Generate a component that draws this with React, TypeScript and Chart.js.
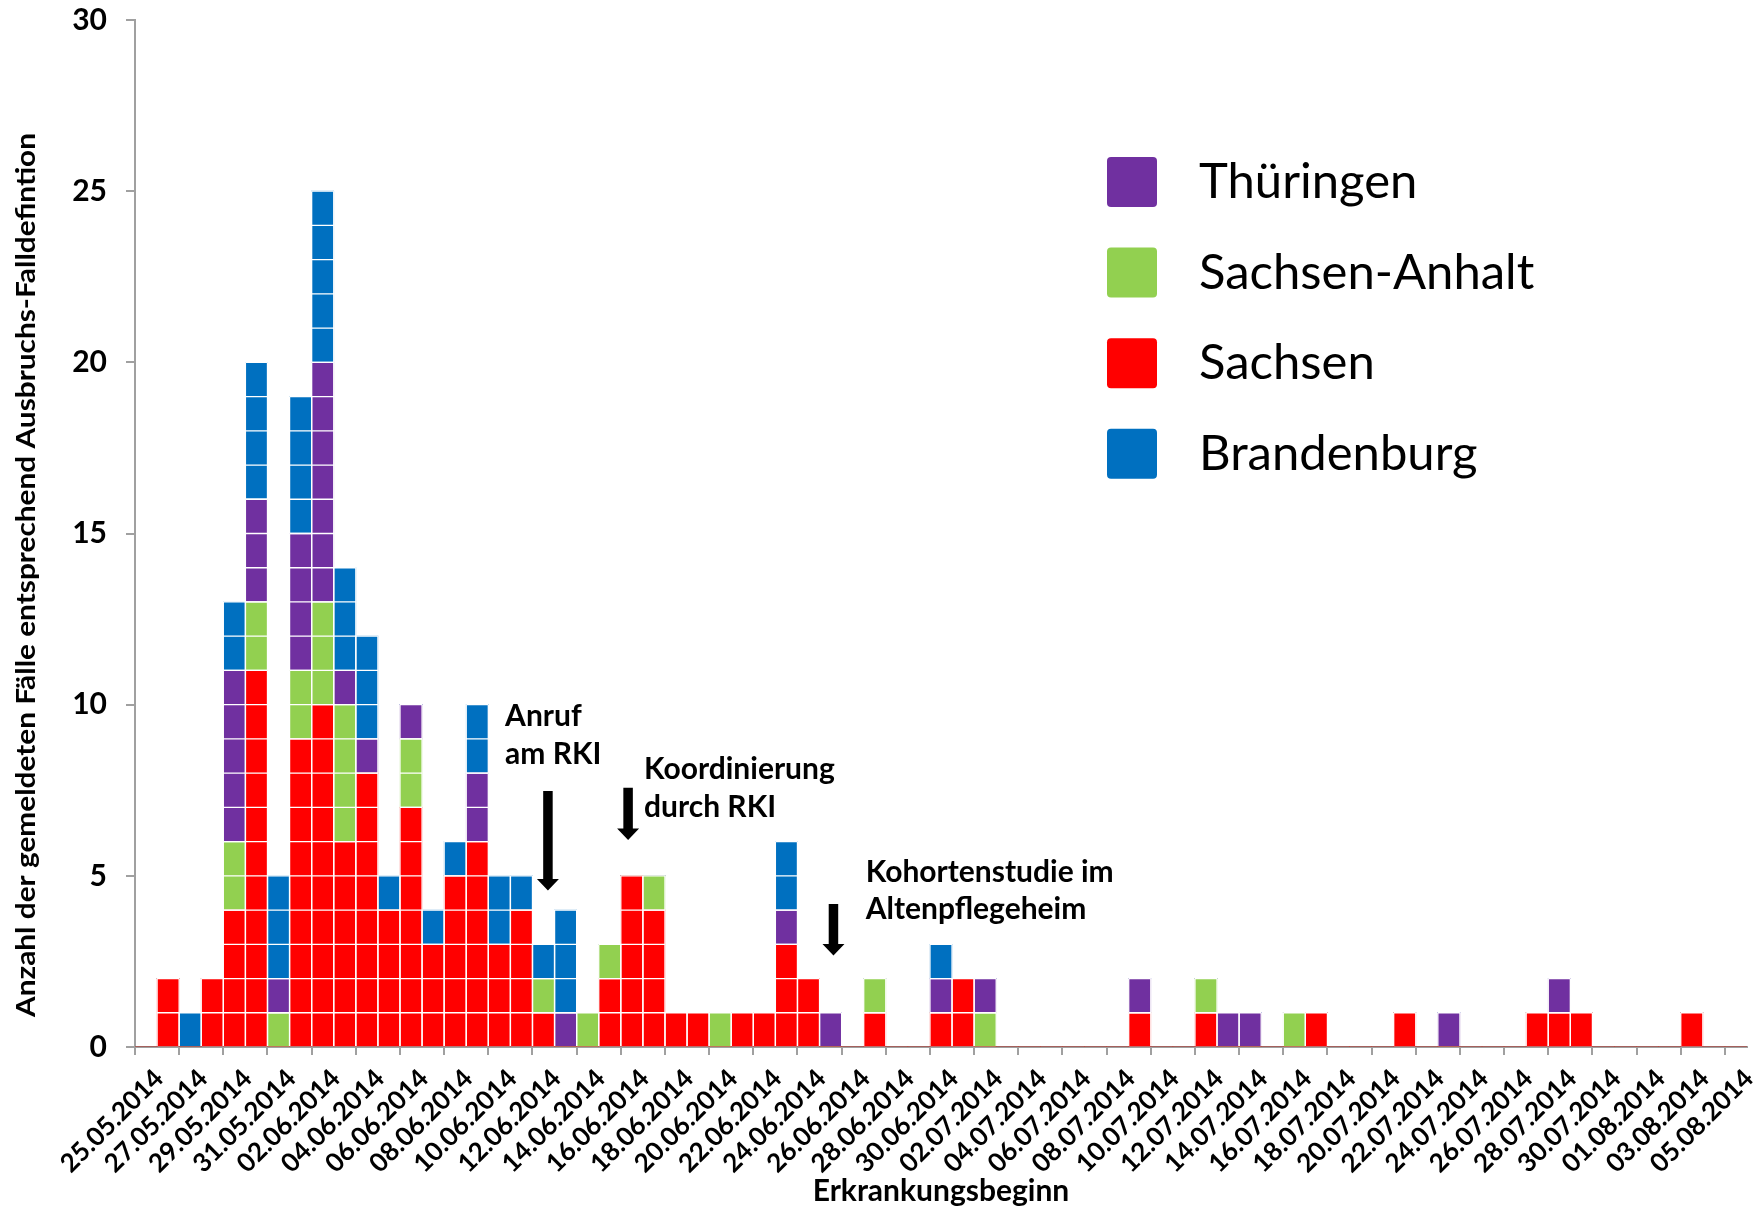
import { useEffect, useRef } from 'react';
import { Chart, registerables } from 'chart.js';

Chart.register(...registerables);

const DATES: string[] = [
  '25.05.2014', '26.05.2014', '27.05.2014', '28.05.2014', '29.05.2014', '30.05.2014', '31.05.2014',
  '01.06.2014', '02.06.2014', '03.06.2014', '04.06.2014', '05.06.2014', '06.06.2014', '07.06.2014',
  '08.06.2014', '09.06.2014', '10.06.2014', '11.06.2014', '12.06.2014', '13.06.2014', '14.06.2014',
  '15.06.2014', '16.06.2014', '17.06.2014', '18.06.2014', '19.06.2014', '20.06.2014', '21.06.2014',
  '22.06.2014', '23.06.2014', '24.06.2014', '25.06.2014', '26.06.2014', '27.06.2014', '28.06.2014',
  '29.06.2014', '30.06.2014',
  '01.07.2014', '02.07.2014', '03.07.2014', '04.07.2014', '05.07.2014', '06.07.2014', '07.07.2014',
  '08.07.2014', '09.07.2014', '10.07.2014', '11.07.2014', '12.07.2014', '13.07.2014', '14.07.2014',
  '15.07.2014', '16.07.2014', '17.07.2014', '18.07.2014', '19.07.2014', '20.07.2014', '21.07.2014',
  '22.07.2014', '23.07.2014', '24.07.2014', '25.07.2014', '26.07.2014', '27.07.2014', '28.07.2014',
  '29.07.2014', '30.07.2014', '31.07.2014',
  '01.08.2014', '02.08.2014', '03.08.2014', '04.08.2014', '05.08.2014',
];

// stacked bottom -> top
const SACHSEN: number[] = [
  0, 2, 0, 2, 4, 11, 0, 9, 10, 6,
  8, 4, 7, 3, 5, 6, 3, 4, 1, 0,
  0, 2, 5, 4, 1, 1, 0, 1, 1, 3,
  2, 0, 0, 1, 0, 0, 1, 2, 0, 0,
  0, 0, 0, 0, 0, 1, 0, 0, 1, 0,
  0, 0, 0, 1, 0, 0, 0, 1, 0, 0,
  0, 0, 0, 1, 1, 1, 0, 0, 0, 0,
  1, 0, 0,
];
const SACHSEN_ANHALT: number[] = [
  0, 0, 0, 0, 2, 2, 1, 2, 3, 4,
  0, 0, 2, 0, 0, 0, 0, 0, 1, 0,
  1, 1, 0, 1, 0, 0, 1, 0, 0, 0,
  0, 0, 0, 1, 0, 0, 0, 0, 1, 0,
  0, 0, 0, 0, 0, 0, 0, 0, 1, 0,
  0, 0, 1, 0, 0, 0, 0, 0, 0, 0,
  0, 0, 0, 0, 0, 0, 0, 0, 0, 0,
  0, 0, 0,
];
const THUERINGEN: number[] = [
  0, 0, 0, 0, 5, 3, 1, 4, 7, 1,
  1, 0, 1, 0, 0, 2, 0, 0, 0, 1,
  0, 0, 0, 0, 0, 0, 0, 0, 0, 1,
  0, 1, 0, 0, 0, 0, 1, 0, 1, 0,
  0, 0, 0, 0, 0, 1, 0, 0, 0, 1,
  1, 0, 0, 0, 0, 0, 0, 0, 0, 1,
  0, 0, 0, 0, 1, 0, 0, 0, 0, 0,
  0, 0, 0,
];
const BRANDENBURG: number[] = [
  0, 0, 1, 0, 2, 4, 3, 4, 5, 3,
  3, 1, 0, 1, 1, 2, 2, 1, 1, 3,
  0, 0, 0, 0, 0, 0, 0, 0, 0, 2,
  0, 0, 0, 0, 0, 0, 1, 0, 0, 0,
  0, 0, 0, 0, 0, 0, 0, 0, 0, 0,
  0, 0, 0, 0, 0, 0, 0, 0, 0, 0,
  0, 0, 0, 0, 0, 0, 0, 0, 0, 0,
  0, 0, 0,
];

const SERIES_LABELS = ['Sachsen', 'Sachsen-Anhalt', 'Thüringen', 'Brandenburg'];
const SERIES_COLORS = ['#FF0000', '#92D050', '#7030A0', '#0070C0'];
const LEGEND_ORDER = ['Thüringen', 'Sachsen-Anhalt', 'Sachsen', 'Brandenburg'];

const Y_TICKS = [0, 5, 10, 15, 20, 25, 30];
const Y_TITLE = 'Anzahl der gemeldeten Fälle entsprechend Ausbruchs-Falldefintion';
const X_TITLE = 'Erkrankungsbeginn';

// annotations in data coordinates (category index, case count)
const ANNOTATIONS = [
  { lines: ['Anruf', 'am RKI'], textX: 16.26, textY: 9.37, arrowX: 18.2, arrowTop: 7.48, arrowTip: 4.57 },
  { lines: ['Koordinierung', 'durch RKI'], textX: 22.55, textY: 7.82, arrowX: 21.83, arrowTop: 7.57, arrowTip: 6.05 },
  { lines: ['Kohortenstudie im', 'Altenpflegeheim'], textX: 32.59, textY: 4.82, arrowX: 31.13, arrowTop: 4.18, arrowTip: 2.67 },
];

const FONT = 'Lato, "Open Sans", sans-serif';

const overlayPlugin = {
  id: 'overlay',
  afterDatasetsDraw(chart: any) {
    const ctx = chart.ctx;
    const yScale = chart.scales.y;
    ctx.save();
    ctx.strokeStyle = '#FFFFFF';
    ctx.lineWidth = 1.3;
    chart.data.datasets.forEach((ds: any, di: number) => {
      const meta = chart.getDatasetMeta(di);
      meta.data.forEach((bar: any, i: number) => {
        const v = ds.data[i];
        if (!v) return;
        const p = bar.getProps(['x', 'y', 'base', 'width'], true);
        const l = p.x - p.width / 2;
        const r = p.x + p.width / 2;
        const startVal = Math.round(yScale.getValueForPixel(p.base));
        ctx.beginPath();
        for (let k = startVal; k <= startVal + v; k++) {
          if (k === 0) continue;
          const py = yScale.getPixelForValue(k);
          ctx.moveTo(l, py);
          ctx.lineTo(r, py);
        }
        ctx.moveTo(l, p.y);
        ctx.lineTo(l, p.base);
        ctx.moveTo(r, p.y);
        ctx.lineTo(r, p.base);
        ctx.stroke();
      });
    });
    ctx.restore();
  },
  afterDraw(chart: any) {
    const ctx = chart.ctx;
    const { x, y } = chart.scales;
    ctx.save();

    // y axis title (condensed to the reference's length)
    ctx.save();
    ctx.translate(35, 575);
    ctx.rotate(-Math.PI / 2);
    ctx.font = `bold 27px ${FONT}`;
    ctx.fillStyle = '#000';
    ctx.textAlign = 'center';
    ctx.textBaseline = 'alphabetic';
    const w = ctx.measureText(Y_TITLE).width;
    ctx.scale(884 / w, 1);
    ctx.fillText(Y_TITLE, 0, 0);
    ctx.restore();

    // legend
    const sq = 50;
    const left = 1107;
    const top0 = 157;
    const step = 90.6;
    LEGEND_ORDER.forEach((label, i) => {
      const di = chart.data.datasets.findIndex((d: any) => d.label === label);
      const color = chart.data.datasets[di].backgroundColor;
      const top = top0 + i * step;
      ctx.fillStyle = color;
      ctx.beginPath();
      if (ctx.roundRect) ctx.roundRect(left, top, sq, sq, 4);
      else ctx.rect(left, top, sq, sq);
      ctx.fill();
      ctx.fillStyle = '#000';
      ctx.font = `49px ${FONT}`;
      ctx.textAlign = 'left';
      ctx.textBaseline = 'alphabetic';
      ctx.fillText(label, 1199, top + sq / 2 + 16);
    });

    // annotations
    ANNOTATIONS.forEach((a) => {
      ctx.fillStyle = '#000';
      ctx.font = `bold 30px ${FONT}`;
      ctx.textAlign = 'left';
      ctx.textBaseline = 'alphabetic';
      const tx = x.getPixelForValue(a.textX);
      const ty = y.getPixelForValue(a.textY);
      a.lines.forEach((ln, li) => ctx.fillText(ln, tx, ty + li * 37.5));
      const ax = x.getPixelForValue(a.arrowX);
      const aTop = y.getPixelForValue(a.arrowTop);
      const aTip = y.getPixelForValue(a.arrowTip);
      const shaftW = 9.5;
      const headW = 22;
      const headL = 11.5;
      ctx.beginPath();
      ctx.moveTo(ax - shaftW / 2, aTop);
      ctx.lineTo(ax + shaftW / 2, aTop);
      ctx.lineTo(ax + shaftW / 2, aTip - headL);
      ctx.lineTo(ax + headW / 2, aTip - headL);
      ctx.lineTo(ax, aTip);
      ctx.lineTo(ax - headW / 2, aTip - headL);
      ctx.lineTo(ax - shaftW / 2, aTip - headL);
      ctx.closePath();
      ctx.fill();
    });
    ctx.restore();
  },
};

export default function App() {
  const canvasRef = useRef<HTMLCanvasElement | null>(null);

  useEffect(() => {
    const canvas = canvasRef.current;
    if (!canvas) return;
    const seriesData = [SACHSEN, SACHSEN_ANHALT, THUERINGEN, BRANDENBURG];
    const chart = new Chart(canvas, {
      type: 'bar',
      data: {
        labels: DATES,
        datasets: seriesData.map((d, i) => ({
          label: SERIES_LABELS[i],
          data: d,
          backgroundColor: SERIES_COLORS[i],
          borderWidth: 0,
          barPercentage: 1,
          categoryPercentage: 1,
        })),
      },
      options: {
        responsive: false,
        animation: false,
        layout: { padding: { left: 0, right: 8, top: 20, bottom: 0 } },
        plugins: {
          legend: { display: false },
          tooltip: { enabled: false },
        },
        scales: {
          x: {
            stacked: true,
            offset: true,
            grid: {
              display: true,
              offset: true,
              drawOnChartArea: false,
              drawTicks: true,
              tickLength: 8,
              lineWidth: 2,
              color: (c: any) => (c.index !== undefined && c.index % 2 === 0 ? '#A0A0A0' : 'rgba(0,0,0,0)'),
            },
            border: { display: true, color: '#A0A0A0', width: 2 },
            ticks: {
              autoSkip: false,
              maxRotation: 45,
              minRotation: 45,
              padding: 8,
              labelOffset: 13,
              color: '#000',
              font: { family: FONT, weight: 'bold', size: 26 },
              callback: (_v: any, i: number) => (i % 2 === 0 ? DATES[i] : ''),
            },
            title: {
              display: true,
              text: X_TITLE,
              color: '#000',
              font: { family: FONT, weight: 'bold', size: 30 },
              padding: { top: 0, bottom: 0 },
            },
            afterFit: (s: any) => {
              s.height = 162;
              s.paddingLeft = 0;
              s.paddingRight = 0;
            },
          },
          y: {
            stacked: true,
            min: 0,
            max: 30,
            afterBuildTicks: (s: any) => {
              s.ticks = Y_TICKS.map((v) => ({ value: v }));
            },
            grid: {
              display: true,
              drawOnChartArea: false,
              drawTicks: true,
              tickLength: 9,
              lineWidth: 2,
              color: '#A0A0A0',
            },
            border: { display: true, color: '#A0A0A0', width: 2 },
            ticks: {
              padding: 19,
              color: '#000',
              font: { family: FONT, weight: 'bold', size: 30 },
            },
            afterFit: (s: any) => {
              s.width = 135;
              s.paddingTop = 0;
              s.paddingBottom = 0;
            },
          },
        },
      },
      plugins: [overlayPlugin],
    } as any);
    return () => chart.destroy();
  }, []);

  return (
    <div style={{ position: 'absolute', left: 0, top: 0, width: 1755, height: 1209, background: '#fff' }}>
      <canvas ref={canvasRef} width={1755} height={1209} />
    </div>
  );
}
